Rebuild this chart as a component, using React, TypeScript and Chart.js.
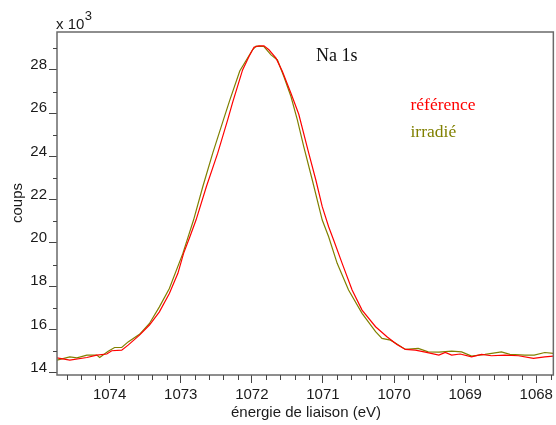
import React, { useEffect, useRef } from 'react';
import { Chart, registerables } from 'chart.js';

Chart.register(...registerables);

// Binding energy (eV) and counts (x 10^3) — reference sample
const refEnergy = [1074.74, 1074.56, 1074.32, 1074.18, 1074.04, 1073.97, 1073.83, 1073.74, 1073.58, 1073.44, 1073.30, 1073.16, 1073.04, 1072.96, 1072.87, 1072.785, 1072.64, 1072.48, 1072.34, 1072.27, 1072.13, 1072.04, 1071.97, 1071.90, 1071.83, 1071.76, 1071.66, 1071.57, 1071.45, 1071.34, 1071.20, 1071.10, 1071.01, 1070.92, 1070.85, 1070.73, 1070.59, 1070.45, 1070.26, 1070.10, 1069.96, 1069.84, 1069.70, 1069.56, 1069.37, 1069.28, 1069.19, 1069.07, 1068.91, 1068.77, 1068.63, 1068.44, 1068.25, 1068.04, 1067.88, 1067.76];
const refCounts = [14.69, 14.59, 14.71, 14.82, 14.87, 15.02, 15.05, 15.28, 15.74, 16.21, 16.82, 17.67, 18.6, 19.52, 20.3, 21.06, 22.6, 24.15, 25.69, 26.5, 28.0, 28.62, 29.05, 29.11, 29.11, 28.93, 28.54, 27.92, 26.92, 25.95, 24.15, 22.91, 21.68, 20.75, 20.14, 19.06, 17.83, 16.9, 16.13, 15.67, 15.31, 15.08, 15.05, 14.96, 14.82, 14.94, 14.82, 14.87, 14.74, 14.85, 14.79, 14.82, 14.79, 14.67, 14.74, 14.77];

// Irradiated sample
const irrEnergy = [1074.74, 1074.56, 1074.46, 1074.32, 1074.18, 1074.14, 1074.02, 1073.93, 1073.83, 1073.74, 1073.58, 1073.44, 1073.30, 1073.16, 1072.97, 1072.82, 1072.69, 1072.55, 1072.40, 1072.31, 1072.17, 1071.99, 1071.94, 1071.83, 1071.73, 1071.64, 1071.55, 1071.45, 1071.36, 1071.27, 1071.15, 1071.01, 1070.92, 1070.80, 1070.64, 1070.45, 1070.26, 1070.17, 1070.05, 1069.96, 1069.84, 1069.66, 1069.52, 1069.37, 1069.19, 1069.05, 1068.91, 1068.72, 1068.49, 1068.37, 1068.16, 1068.03, 1067.88, 1067.76];
const irrCounts = [14.59, 14.74, 14.69, 14.82, 14.82, 14.71, 15.0, 15.17, 15.17, 15.43, 15.78, 16.28, 17.05, 17.9, 19.52, 21.06, 22.6, 24.15, 25.69, 26.6, 27.95, 28.93, 29.1, 29.08, 28.69, 28.46, 27.69, 26.77, 25.69, 24.45, 22.91, 21.06, 20.29, 19.06, 17.83, 16.75, 15.9, 15.59, 15.51, 15.33, 15.08, 15.13, 14.97, 14.96, 15.0, 14.97, 14.77, 14.85, 14.97, 14.85, 14.82, 14.82, 14.94, 14.9];

const xTicks = [1074, 1073, 1072, 1071, 1070, 1069, 1068];
const yTicks = [14, 16, 18, 20, 22, 24, 26, 28];
const xMinorStep = 0.2;
const yMinorStep = 1;

const seriesNames = ['référence', 'irradié'];
const seriesColors = ['#ff0000', '#808000'];
const titleText = 'Na 1s';
const xTitle = 'énergie de liaison (eV)';
const yTitle = 'coups';

const SANS = '"Liberation Sans", Arial, sans-serif';
const SERIF = '"Liberation Serif", "Times New Roman", serif';

const decorPlugin = {
  id: 'decor',
  afterDraw(chart: any) {
    const { ctx, chartArea } = chart;
    const xs = chart.scales.x;
    const ys = chart.scales.y;
    const { left, right, top, bottom } = chartArea;
    ctx.save();
    // frame
    ctx.strokeStyle = '#6a6a6a';
    ctx.lineWidth = 1.5;
    ctx.strokeRect(left, top, right - left, bottom - top);
    // minor ticks
    ctx.strokeStyle = '#444';
    ctx.lineWidth = 1;
    ctx.beginPath();
    const xmin = xs.min, xmax = xs.max;
    for (let k = Math.ceil(xmin / xMinorStep); k * xMinorStep <= xmax; k++) {
      const v = k * xMinorStep;
      if (Math.abs(v - Math.round(v)) < 1e-6) continue;
      const px = Math.round(xs.getPixelForValue(v)) + 0.5;
      ctx.moveTo(px, bottom);
      ctx.lineTo(px, bottom + 5);
    }
    for (let v = Math.ceil(ys.min); v <= ys.max; v += yMinorStep) {
      if (yTicks.includes(v)) continue;
      const py = Math.round(ys.getPixelForValue(v)) + 0.5;
      ctx.moveTo(left - 4, py);
      ctx.lineTo(left, py);
    }
    ctx.stroke();

    // multiplier
    ctx.fillStyle = '#1a1a1a';
    ctx.textAlign = 'left';
    ctx.textBaseline = 'alphabetic';
    ctx.font = `15px ${SANS}`;
    ctx.fillText('x 10', 56, 28.5);
    const w = ctx.measureText('x 10').width;
    ctx.font = `13px ${SANS}`;
    ctx.fillText('3', 56 + w + 0.5, 20);

    // axis titles
    ctx.font = `15px ${SANS}`;
    ctx.textAlign = 'center';
    ctx.textBaseline = 'middle';
    ctx.fillText(xTitle, 306, 413);
    ctx.save();
    ctx.translate(18, 203);
    ctx.rotate(-Math.PI / 2);
    ctx.fillText(yTitle, 0, 0);
    ctx.restore();

    // annotations
    ctx.textAlign = 'left';
    ctx.textBaseline = 'alphabetic';
    ctx.font = `18px ${SERIF}`;
    ctx.fillStyle = '#111';
    ctx.fillText(titleText, 316, 60.7);
    ctx.font = `17.5px ${SERIF}`;
    ctx.fillStyle = seriesColors[0];
    ctx.fillText(seriesNames[0], 410.5, 110);
    ctx.fillStyle = seriesColors[1];
    ctx.fillText(seriesNames[1], 410.5, 137.3);
    ctx.restore();
  },
};

export default function App() {
  const ref = useRef<HTMLCanvasElement | null>(null);
  useEffect(() => {
    document.body.style.margin = '0';
    const canvas = ref.current;
    if (!canvas) return;
    const chart = new Chart(canvas, {
      type: 'line',
      data: {
        datasets: [
          {
            label: seriesNames[0],
            data: refEnergy.map((e, i) => ({ x: e, y: refCounts[i] })),
            borderColor: seriesColors[0],
            borderWidth: 1.2,
            pointRadius: 0,
            tension: 0,
            fill: false,
          },
          {
            label: seriesNames[1],
            data: irrEnergy.map((e, i) => ({ x: e, y: irrCounts[i] })),
            borderColor: seriesColors[1],
            borderWidth: 1.2,
            pointRadius: 0,
            tension: 0,
            fill: false,
          },
        ],
      },
      options: {
        animation: false,
        responsive: false,
        devicePixelRatio: 1,
        layout: { padding: { top: 32, right: 1, left: 0, bottom: 0 } },
        plugins: {
          legend: { display: false },
          tooltip: { enabled: false },
          title: { display: false },
        },
        scales: {
          x: {
            type: 'linear',
            reverse: true,
            min: 1067.76,
            max: 1074.74,
            afterBuildTicks: (s: any) => {
              s.ticks = xTicks.map((v) => ({ value: v }));
            },
            afterFit: (s: any) => {
              s.height = 50;
            },
            ticks: {
              font: { family: SANS, size: 15 },
              color: '#1a1a1a',
              padding: 3,
              maxRotation: 0,
              autoSkip: false,
              includeBounds: false,
              callback: (v: any) => String(v),
            },
            grid: {
              drawOnChartArea: false,
              drawTicks: true,
              tickLength: 8,
              tickColor: '#444',
            },
            border: { display: false },
          },
          y: {
            type: 'linear',
            min: 13.9,
            max: 29.75,
            afterBuildTicks: (s: any) => {
              s.ticks = yTicks.map((v) => ({ value: v }));
            },
            afterFit: (s: any) => {
              s.width = 57;
            },
            ticks: {
              font: { family: SANS, size: 15 },
              color: '#1a1a1a',
              padding: 2,
              labelOffset: -5,
              autoSkip: false,
              callback: (v: any) => String(v),
            },
            grid: {
              drawOnChartArea: false,
              drawTicks: true,
              tickLength: 8,
              tickColor: '#444',
            },
            border: { display: false },
          },
        },
      },
      plugins: [decorPlugin],
    } as any);
    return () => chart.destroy();
  }, []);
  return (
    <div style={{ width: 556, height: 425 }}>
      <canvas ref={ref} width={556} height={425} style={{ display: 'block' }} />
    </div>
  );
}
